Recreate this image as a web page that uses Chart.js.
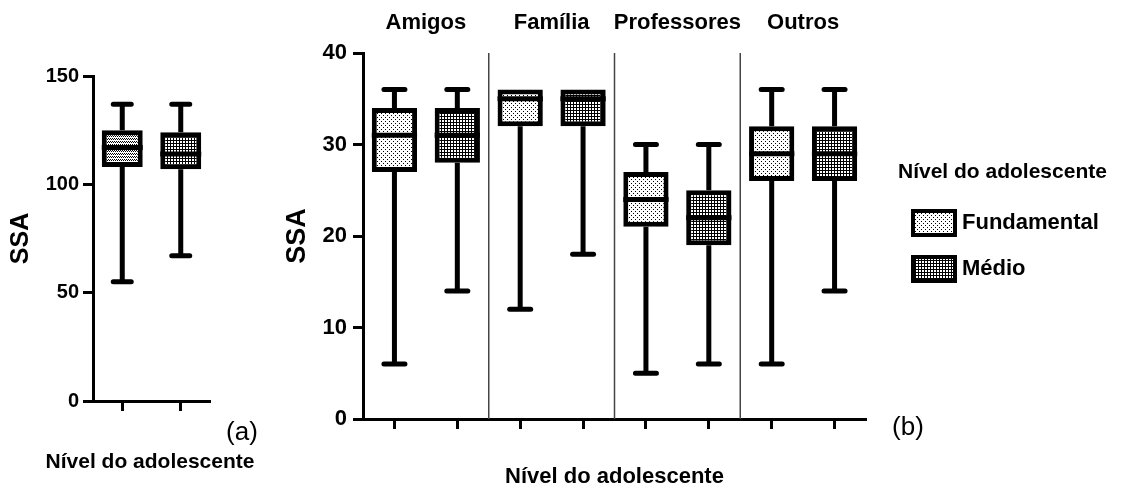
<!DOCTYPE html>
<html><head><meta charset="utf-8">
<script src="https://cdn.jsdelivr.net/npm/chart.js@4.4.1/dist/chart.umd.min.js"></script>
<style>
html,body{margin:0;padding:0;background:#fff;width:1142px;height:491px;overflow:hidden}
#ca{position:absolute;left:0;top:0}
#cb{position:absolute;left:280px;top:0}
</style></head><body>
<canvas id="ca" width="280" height="491"></canvas>
<canvas id="cb" width="862" height="491"></canvas>
<script>
// ---------- DATA ----------
const levels = ['Fundamental', 'Médio'];
const axisTitle = 'Nível do adolescente';
const yTitle = 'SSA';

// Panel (a): total SSA by level
const aMin = [55, 67];
const aQ1 = [108, 107];
const aMedian = [117, 114];
const aQ3 = [125, 124];
const aMax = [137, 137];
const aTickStep = 50;
const aYMax = 150;

// Panel (b): SSA subscales by level
const groups = ['Amigos', 'Família', 'Professores', 'Outros'];
const fundMin = [6, 12, 5, 6];
const fundQ1 = [27, 32, 21, 26];
const fundMedian = [31, 35, 24, 29];
const fundQ3 = [34, 36, 27, 32];
const fundMax = [36, 36, 30, 36];
const medMin = [14, 18, 6, 14];
const medQ1 = [28, 32, 19, 26];
const medMedian = [31, 35, 22, 29];
const medQ3 = [34, 36, 25, 32];
const medMax = [36, 36, 30, 36];
const bTickStep = 10;
const bYMax = 40;

// ---------- STYLE ----------
const FONT = "'Liberation Sans', Arial, sans-serif";
Chart.defaults.font.family = FONT;
Chart.defaults.color = '#000';

function makePattern(kind) {
  const c = document.createElement('canvas');
  const g = c.getContext('2d');
  if (kind === 'light') {
    c.width = 4; c.height = 4;
    g.fillStyle = '#fff'; g.fillRect(0, 0, 4, 4);
    g.fillStyle = '#000'; g.fillRect(1, 1, 1, 1); g.fillRect(3, 3, 1, 1);
  } else if (kind === 'mid') {
    c.width = 4; c.height = 3;
    g.fillStyle = '#fff'; g.fillRect(0, 0, 4, 3);
    g.fillStyle = '#000'; g.fillRect(0, 0, 1, 1); g.fillRect(2, 0, 1, 1);
    g.fillRect(1, 1, 1, 1); g.fillRect(3, 1, 1, 1);
  } else {
    c.width = 3; c.height = 3;
    g.fillStyle = '#000'; g.fillRect(0, 0, 3, 3);
    g.fillStyle = '#fff'; g.fillRect(0, 0, 2, 2);
  }
  return g.createPattern(c, 'repeat');
}
const patLight = makePattern('light');
const patMid = makePattern('mid');
const patDark = makePattern('dark');

const boxPlugin = {
  id: 'boxWhiskers',
  afterDatasetsDraw(chart, args, opts) {
    const ctx = chart.ctx, y = chart.scales.y;
    const capHalf = opts.capHalf || 10;
    chart.data.datasets.forEach((ds, di) => {
      const meta = chart.getDatasetMeta(di);
      meta.data.forEach((el, i) => {
        const v = ds.data[i];
        if (!v) return;
        const x = el.x, w = el.width;
        const lo = ds.whiskerMin[i], hi = ds.whiskerMax[i], med = ds.medianValues[i];
        const pHi = y.getPixelForValue(hi), pLo = y.getPixelForValue(lo);
        const pQ1 = y.getPixelForValue(v[0]), pQ3 = y.getPixelForValue(v[1]);
        ctx.save();
        ctx.strokeStyle = '#000';
        ctx.lineWidth = 5;
        ctx.lineCap = 'butt';
        ctx.beginPath();
        if (hi > v[1]) { ctx.moveTo(x, pHi); ctx.lineTo(x, pQ3); }
        if (lo < v[0]) { ctx.moveTo(x, pQ1); ctx.lineTo(x, pLo); }
        ctx.stroke();
        ctx.lineCap = 'round';
        ctx.beginPath();
        if (hi > v[1]) { ctx.moveTo(x - capHalf, pHi); ctx.lineTo(x + capHalf, pHi); }
        if (lo < v[0]) { ctx.moveTo(x - capHalf, pLo); ctx.lineTo(x + capHalf, pLo); }
        ctx.stroke();
        ctx.lineCap = 'butt';
        const pm = y.getPixelForValue(med);
        ctx.beginPath();
        ctx.moveTo(x - w / 2, pm); ctx.lineTo(x + w / 2, pm);
        ctx.stroke();
        ctx.restore();
      });
    });
  }
};

const textPlugin = {
  id: 'panelText',
  afterDraw(chart, args, opts) {
    const ctx = chart.ctx;
    ctx.save();
    ctx.fillStyle = '#000';
    ctx.font = '26px ' + FONT;
    ctx.textAlign = 'center';
    ctx.textBaseline = 'middle';
    ctx.fillText(opts.tag, opts.tagX, opts.tagY);
    if (opts.xTitle) {
      ctx.font = 'bold 21px ' + FONT;
      ctx.fillText(opts.xTitle, opts.xTitleX, opts.xTitleY);
    }
    ctx.restore();
  }
};

const separatorPlugin = {
  id: 'groupSeparators',
  beforeDatasetsDraw(chart) {
    const ctx = chart.ctx, x = chart.scales.x, a = chart.chartArea;
    ctx.save();
    ctx.strokeStyle = '#444';
    ctx.lineWidth = 1.5;
    for (let g = 1; g < groups.length; g++) {
      const px = x.getPixelForValue(g * 2 - 0.5);
      ctx.beginPath();
      ctx.moveTo(px, a.top);
      ctx.lineTo(px, a.bottom);
      ctx.stroke();
    }
    ctx.restore();
  }
};

const legendPlugin = {
  id: 'patternLegend',
  afterDraw(chart) {
    const ctx = chart.ctx;
    ctx.save();
    ctx.fillStyle = '#000';
    ctx.font = 'bold 21px ' + FONT;
    ctx.textAlign = 'left';
    ctx.textBaseline = 'middle';
    ctx.fillText(axisTitle, 618, 172);
    chart.data.datasets.forEach((ds, i) => {
      const top = 209 + i * 46;
      ctx.fillStyle = '#000';
      ctx.fillRect(631, top, 46, 28);
      ctx.fillStyle = ds.backgroundColor;
      ctx.fillRect(635, top + 4, 38, 20);
      ctx.fillStyle = '#000';
      ctx.font = 'bold 22px ' + FONT;
      ctx.fillText(ds.label, 682, top + 14);
    });
    ctx.restore();
  }
};

// ---------- CHART (a) ----------
new Chart(document.getElementById('ca'), {
  type: 'bar',
  data: {
    labels: levels,
    datasets: [{
      label: 'SSA',
      data: aQ1.map((q, i) => [q, aQ3[i]]),
      backgroundColor: [patMid, patDark],
      borderColor: '#000',
      borderWidth: 5,
      borderSkipped: false,
      barPercentage: 0.7,
      categoryPercentage: 1,
      whiskerMin: aMin,
      whiskerMax: aMax,
      medianValues: aMedian
    }]
  },
  options: {
    responsive: false,
    animation: false,
    events: [],
    layout: { padding: { top: 76, right: 70, bottom: 0, left: 0 } },
    plugins: {
      legend: { display: false },
      tooltip: { enabled: false },
      boxWhiskers: { capHalf: 9 },
      panelText: { tag: '(a)', tagX: 242, tagY: 433, xTitle: axisTitle, xTitleX: 150, xTitleY: 462 }
    },
    scales: {
      x: {
        type: 'category',
        offset: true,
        grid: { offset: false, drawOnChartArea: false, drawTicks: true, tickLength: 10, tickWidth: 3, tickColor: '#000' },
        border: { display: true, color: '#000', width: 3 },
        ticks: { callback: () => '' },
        title: { display: false },
        afterFit(s) { s.height = 90; }
      },
      y: {
        min: 0, max: aYMax,
        grid: { drawOnChartArea: false, drawTicks: true, tickLength: 10, tickWidth: 3, tickColor: '#000' },
        border: { display: true, color: '#000', width: 3 },
        ticks: { stepSize: aTickStep, font: { size: 20, weight: 'bold' }, padding: 4 },
        title: { display: true, text: yTitle, font: { size: 25, weight: 'bold' }, padding: { top: 6, bottom: 0 } },
        afterFit(s) { s.width = 93; }
      }
    }
  },
  plugins: [boxPlugin, textPlugin]
});

// ---------- CHART (b) ----------
const catLabels = [];
const fundBox = [], medBox = [];
const fundLo = [], fundHi = [], fundMed = [];
const medLo = [], medHi = [], medMed = [];
groups.forEach((g, k) => {
  catLabels.push(g + ' – ' + levels[0], g + ' – ' + levels[1]);
  fundBox.push([fundQ1[k], fundQ3[k]], null);
  medBox.push(null, [medQ1[k], medQ3[k]]);
  fundLo.push(fundMin[k], null); fundHi.push(fundMax[k], null); fundMed.push(fundMedian[k], null);
  medLo.push(null, medMin[k]); medHi.push(null, medMax[k]); medMed.push(null, medMedian[k]);
});

new Chart(document.getElementById('cb'), {
  type: 'bar',
  data: {
    labels: catLabels,
    datasets: [{
      label: levels[0],
      data: fundBox,
      backgroundColor: patLight,
      borderColor: '#000',
      borderWidth: 5,
      borderSkipped: false,
      grouped: false,
      barPercentage: 0.72,
      categoryPercentage: 1,
      whiskerMin: fundLo, whiskerMax: fundHi, medianValues: fundMed
    }, {
      label: levels[1],
      data: medBox,
      backgroundColor: patDark,
      borderColor: '#000',
      borderWidth: 5,
      borderSkipped: false,
      grouped: false,
      barPercentage: 0.72,
      categoryPercentage: 1,
      whiskerMin: medLo, whiskerMax: medHi, medianValues: medMed
    }]
  },
  options: {
    responsive: false,
    animation: false,
    events: [],
    layout: { padding: { top: 0, right: 276, bottom: 0, left: 0 } },
    plugins: {
      legend: { display: false },
      tooltip: { enabled: false },
      boxWhiskers: { capHalf: 10.5 },
      panelText: { tag: '(b)', tagX: 628, tagY: 428 }
    },
    scales: {
      x: {
        type: 'category',
        offset: true,
        grid: { offset: false, drawOnChartArea: false, drawTicks: true, tickLength: 10, tickWidth: 3, tickColor: '#000' },
        border: { display: true, color: '#000', width: 3 },
        ticks: { callback: () => '', autoSkip: false },
        title: { display: true, text: axisTitle, font: { size: 22, weight: 'bold' }, padding: { top: 0, bottom: 1 } },
        afterFit(s) { s.height = 72; }
      },
      xTop: {
        type: 'category',
        position: 'top',
        labels: groups,
        offset: true,
        grid: { display: false, drawTicks: false },
        border: { display: false },
        ticks: { font: { size: 22, weight: 'bold' }, padding: 17, maxRotation: 0, autoSkip: false },
        afterFit(s) { s.height = 53; }
      },
      y: {
        min: 0, max: bYMax,
        grid: { drawOnChartArea: false, drawTicks: true, tickLength: 10, tickWidth: 3, tickColor: '#000' },
        border: { display: true, color: '#000', width: 3 },
        ticks: { stepSize: bTickStep, font: { size: 22, weight: 'bold' }, padding: 6 },
        title: { display: true, text: yTitle, font: { size: 27, weight: 'bold' }, padding: { top: 1, bottom: 0 } },
        afterFit(s) { s.width = 83; }
      }
    }
  },
  plugins: [separatorPlugin, boxPlugin, textPlugin, legendPlugin]
});
</script>
</body></html>
